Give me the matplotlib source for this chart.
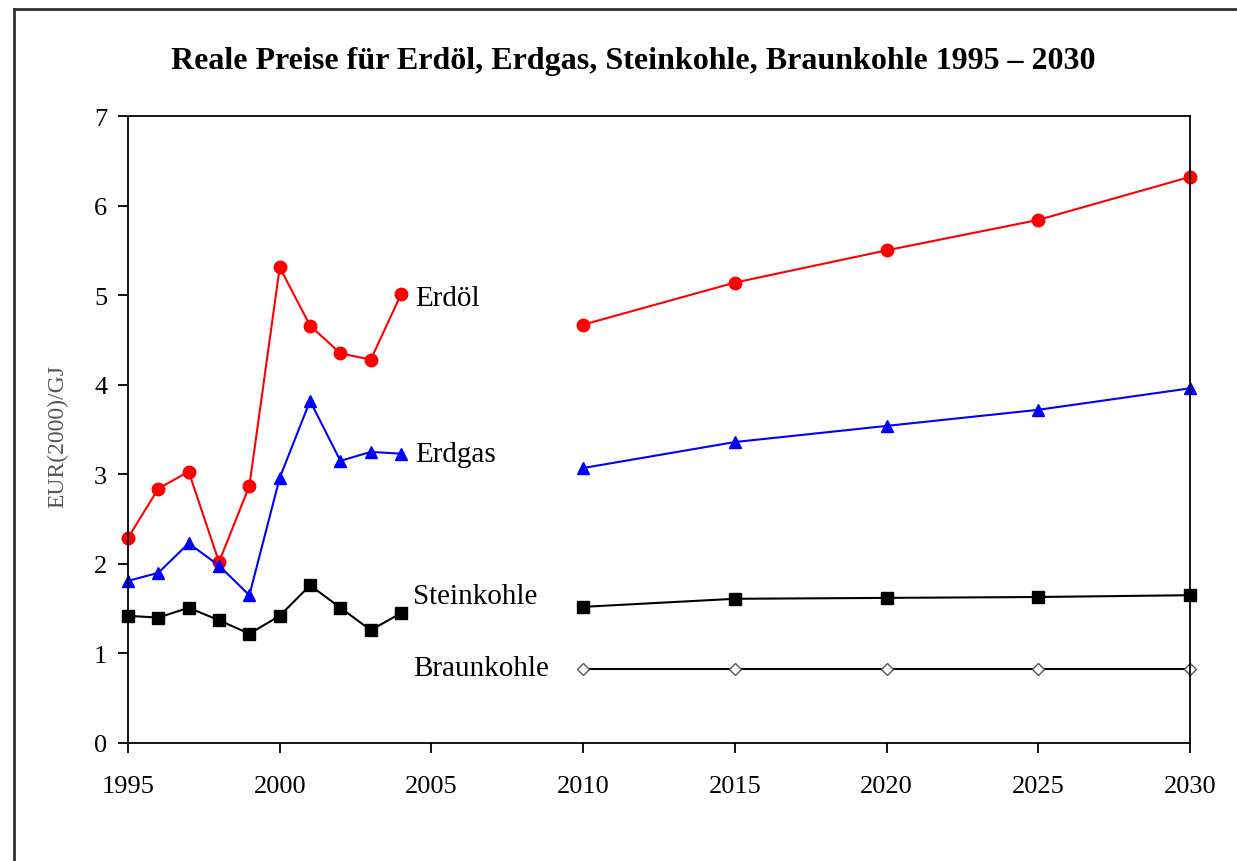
import matplotlib.pyplot as plt
from matplotlib.lines import Line2D

plt.rcParams['font.family'] = ['Liberation Serif', 'DejaVu Serif']

# Jahre (historisch + Prognose)
hist_years = [1995, 1996, 1997, 1998, 1999, 2000, 2001, 2002, 2003, 2004]
proj_years = [2010, 2015, 2020, 2025, 2030]

# Erdöl
oil_hist = [2.29, 2.84, 3.03, 2.02, 2.87, 5.31, 4.66, 4.35, 4.28, 5.01]
oil_proj = [4.67, 5.14, 5.50, 5.84, 6.32]

# Erdgas
gas_hist = [1.81, 1.90, 2.23, 1.98, 1.65, 2.96, 3.82, 3.15, 3.25, 3.23]
gas_proj = [3.07, 3.36, 3.54, 3.72, 3.96]

# Steinkohle
coal_hist = [1.42, 1.40, 1.51, 1.37, 1.22, 1.42, 1.76, 1.51, 1.26, 1.45]
coal_proj = [1.52, 1.61, 1.62, 1.63, 1.65]

# Braunkohle (nur Prognose)
lignite_proj = [0.83, 0.83, 0.83, 0.83, 0.83]

xticks = [1995, 2000, 2005, 2010, 2015, 2020, 2025, 2030]

fig = plt.figure(figsize=(12.37, 8.62), dpi=100)
ax = fig.add_axes([128 / 1237, 1 - 744 / 862, (1190 - 128) / 1237, (744 - 117) / 862])

# Rahmen um die Grafik (oben und links)
fig.add_artist(Line2D([14 / 1237, 1], [1 - 10 / 862, 1 - 10 / 862], color='#333333', lw=2))
fig.add_artist(Line2D([14 / 1237, 14 / 1237], [0, 1 - 10 / 862], color='#333333', lw=2))

# historische Reihen
ax.plot(hist_years, oil_hist, color='red', marker='o', ms=9, lw=1.5, clip_on=False)
ax.plot(hist_years, gas_hist, color='blue', marker='^', ms=9, lw=1.5, clip_on=False)
ax.plot(hist_years, coal_hist, color='black', marker='s', ms=9, lw=1.5, clip_on=False)

# Prognosen
ax.plot(proj_years, oil_proj, color='red', marker='o', ms=9, lw=1.5, clip_on=False)
ax.plot(proj_years, gas_proj, color='blue', marker='^', ms=9, lw=1.5, clip_on=False)
ax.plot(proj_years, coal_proj, color='black', marker='s', ms=9, lw=1.5, clip_on=False)
ax.plot(proj_years, lignite_proj, color='black', marker='D', ms=6, mfc='white',
        mec='#555555', lw=1.5, clip_on=False)

ax.set_xlim(1995, 2030)
ax.set_ylim(0, 7)
ax.set_xticks(xticks)
ax.set_yticks(range(0, 8))
ax.tick_params(axis='both', labelsize=19, direction='out', length=7, width=1.3)
ax.tick_params(axis='x', pad=16)
ax.tick_params(axis='y', pad=8)
for s in ax.spines.values():
    s.set_linewidth(1.3)

ax.set_ylabel('EUR(2000)/GJ', fontsize=17, color='#555555')
ax.yaxis.set_label_coords(-60 / 1062, 0.49)

# Beschriftungen der Reihen
ax.text(2004.46, 4.97, 'Erdöl', fontsize=21, va='center')
ax.text(2004.46, 3.23, 'Erdgas', fontsize=21, va='center')
ax.text(2004.39, 1.64, 'Steinkohle', fontsize=21, va='center')
ax.text(2004.39, 0.84, 'Braunkohle', fontsize=21, va='center')

fig.text(633 / 1237, 1 - 62 / 862, 'Reale Preise für Erdöl, Erdgas, Steinkohle, Braunkohle 1995 – 2030',
         fontsize=23, fontweight='bold', ha='center', va='center')

fig.savefig('out.png', dpi=100)
